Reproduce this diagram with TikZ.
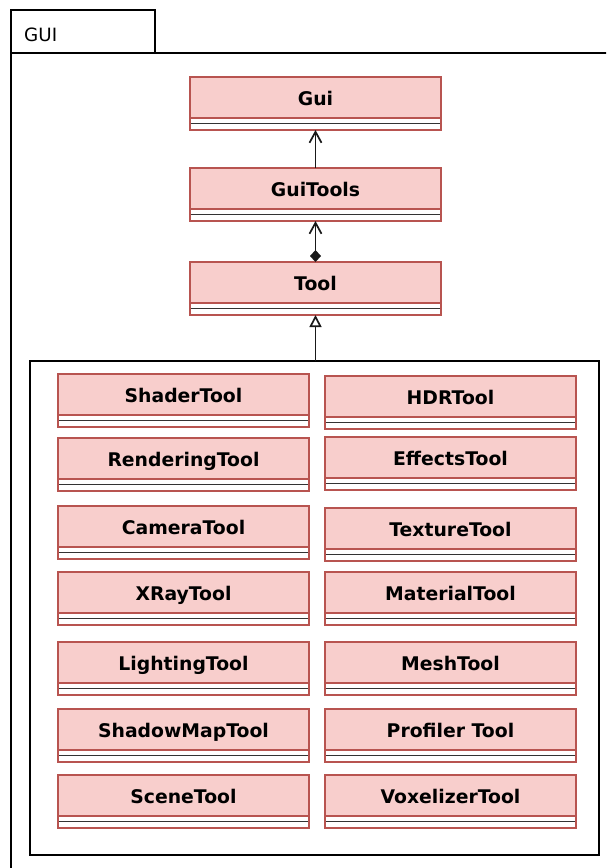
\documentclass[tikz,border=0pt]{standalone}
\usepackage{fontspec}
\setmainfont{DejaVu Sans}
\usetikzlibrary{arrows.meta}
\definecolor{classfill}{HTML}{F8CECC}
\definecolor{classline}{HTML}{B85450}

\tikzset{
  classbody/.style={draw=classline, fill=white, line width=1.5pt,
    minimum width=251pt, minimum height=53pt, inner sep=0pt, outer sep=0pt, anchor=north west},
  classhead/.style={draw=classline, fill=classfill, line width=1.5pt,
    minimum width=251pt, minimum height=41pt, inner sep=0pt, outer sep=0pt, anchor=north west,
    text height=16.5pt, text depth=0pt,
    font=\bfseries\fontsize{18.8}{22}\selectfont},
  sepline/.style={draw=black!80, line width=1.8pt},
  frameline/.style={draw=black, line width=1.8pt},
  link/.style={draw=black!90, line width=1.7pt},
  openhead/.style={-{Straight Barb[length=11pt,width=12pt]}},
}

% one UML class: name, left x, top y, title
\newcommand\umlclass[4]{%
  \node[classbody] (#1) at (#2,#3) {};
  \node[classhead] (#1-head) at (#2,#3) {#4};
  \draw[sepline] ([yshift=-46.5pt]#1.north west) -- ([yshift=-46.5pt]#1.north east);
  \draw[draw=classline, line width=1.5pt] (#1.north west) rectangle (#1.south east);
}

\begin{document}
\begin{tikzpicture}[x=1pt, y=-1pt]
  \useasboundingbox (0,0) rectangle (606,868);
  \clip (0,0) rectangle (606,868);

  % package frame with its tab
  \node[frameline, fill=white, anchor=north west, minimum width=144pt, minimum height=43pt,
        inner sep=0pt, outer sep=0pt] (tab) at (11,10) {};
  \draw[frameline] (11,53) rectangle (640,900);
  \node[anchor=west, inner sep=0pt, font=\fontsize{18.3}{22}\selectfont] (pkgname) at (24,34.5) {GUI};

  % main chain
  \umlclass{gui}{190}{77}{Gui}
  \umlclass{guitools}{190}{168}{GuiTools}
  \umlclass{tool}{190}{262}{Tool}

  % group of concrete tools
  \node[frameline, anchor=north west, minimum width=569pt, minimum height=494pt,
        inner sep=0pt, outer sep=0pt] (group) at (30,361) {};

  \umlclass{shader}{58}{374}{ShaderTool}
  \umlclass{rendering}{58}{438}{RenderingTool}
  \umlclass{camera}{58}{506}{CameraTool}
  \umlclass{xray}{58}{572}{XRayTool}
  \umlclass{lighting}{58}{642}{LightingTool}
  \umlclass{shadowmap}{58}{709}{ShadowMapTool}
  \umlclass{scene}{58}{775}{SceneTool}

  \umlclass{hdr}{325}{376}{HDRTool}
  \umlclass{effects}{325}{437}{EffectsTool}
  \umlclass{texture}{325}{508}{TextureTool}
  \umlclass{material}{325}{572}{MaterialTool}
  \umlclass{mesh}{325}{642}{MeshTool}
  \umlclass{profiler}{325}{709}{Profiler Tool}
  \umlclass{voxelizer}{325}{775}{VoxelizerTool}

  % relations
  \draw[link, openhead] (guitools.north) -- (gui.south);
  \draw[link, {Diamond[length=12pt,width=11pt]}-{Straight Barb[length=11pt,width=12pt]}]
    (tool.north) -- (guitools.south);
  \draw[link, -{Triangle[open,length=12pt,width=12pt,fill=white]}]
    (tool.south |- group.north) -- (tool.south);
\end{tikzpicture}
\end{document}
